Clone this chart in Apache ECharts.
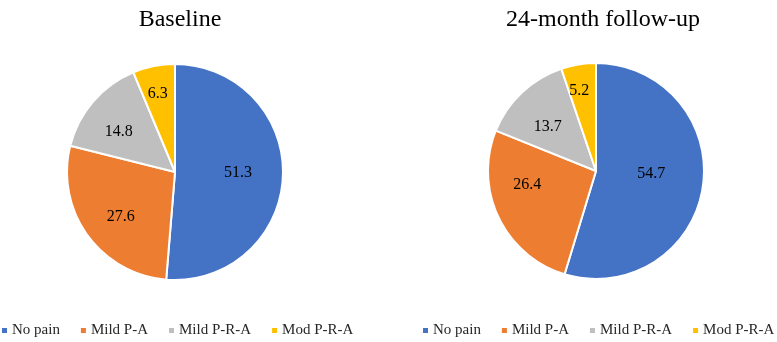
<!DOCTYPE html>
<html>
<head>
<meta charset="utf-8">
<script src="https://cdn.jsdelivr.net/npm/echarts@6/dist/echarts.min.js"></script>
<style>
  html, body { margin: 0; padding: 0; background: #fff; }
  #chart { width: 777px; height: 342px; }
</style>
</head>
<body>
<div id="chart"></div>
<script>
  // pain categories, same order for both pies
  const categories = ['No pain', 'Mild P-A', 'Mild P-R-A', 'Mod P-R-A']
  const baselineValues = [51.3, 27.6, 14.8, 6.3]
  const followUpValues = [54.7, 26.4, 13.7, 5.2]
  const panelTitles = ['Baseline', '24-month follow-up']

  const colors = ['#4472C4', '#ED7D31', '#BFBFBF', '#FFC000']
  const serif = '"Liberation Serif", "Times New Roman", serif'
  const centers = [[175, 172], [596, 171]]
  // small label nudges so the numbers sit where the excel "best fit" put them
  const labelNudges = [
    [[-10, -2], [5, 2], [-1, 7], [-3, -7]],
    [[-17, -8], [-3, -18], [2, 9], [-5, -8]]
  ]

  function toData(values, nudges) {
    return categories.map(function (name, i) {
      const item = { name: name, value: values[i] }
      if (nudges) item.label = { offset: nudges[i] }
      return item
    })
  }

  // main pie (the slices)
  function slicePie(values, center) {
    return {
      type: 'pie',
      center: center,
      radius: 108,
      startAngle: 90,
      clockwise: true,
      label: { show: false },
      labelLine: { show: false },
      itemStyle: { borderColor: '#fff', borderWidth: 2 },
      emphasis: { disabled: true },
      data: toData(values)
    }
  }

  // transparent copy only used to carry the value labels
  function labelPie(values, center, nudges) {
    return {
      type: 'pie',
      center: center,
      radius: [32, 108],
      startAngle: 90,
      clockwise: true,
      silent: true,
      legendHoverLink: false,
      itemStyle: { color: 'rgba(0,0,0,0)' },
      label: {
        show: true,
        position: 'inside',
        formatter: '{c}',
        color: '#000',
        fontFamily: serif,
        fontSize: 16
      },
      emphasis: { disabled: true },
      data: toData(values, nudges)
    }
  }

  const legendBase = {
    data: categories,
    top: 323,
    width: 380,
    padding: 0,
    itemWidth: 5,
    itemHeight: 5,
    itemGap: 21,
    icon: 'rect',
    itemStyle: { borderWidth: 0 },
    textStyle: { fontFamily: serif, fontSize: 15, color: '#262626' }
  }

  const myChart = echarts.init(document.getElementById('chart'))
  const option = {
    color: colors,
    animation: false,
    title: [
      { text: panelTitles[0], left: 175, top: 3, textAlign: 'center',
        textStyle: { fontFamily: serif, fontSize: 24, fontWeight: 'normal', color: '#000' } },
      { text: panelTitles[1], left: 598, top: 3, textAlign: 'center',
        textStyle: { fontFamily: serif, fontSize: 24, fontWeight: 'normal', color: '#000' } }
    ],
    legend: [
      Object.assign({}, legendBase, { left: 2 }),
      Object.assign({}, legendBase, { left: 423 })
    ],
    series: [
      slicePie(baselineValues, centers[0]),
      slicePie(followUpValues, centers[1]),
      labelPie(baselineValues, centers[0], labelNudges[0]),
      labelPie(followUpValues, centers[1], labelNudges[1])
    ]
  }
  myChart.setOption(option)
</script>
</body>
</html>
